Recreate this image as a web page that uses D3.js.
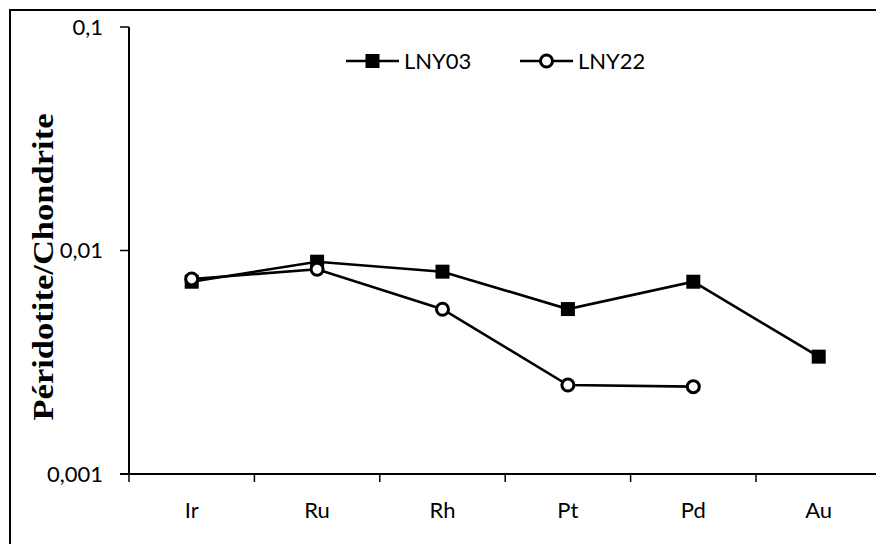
<!DOCTYPE html>
<html><head><meta charset="utf-8">
<script src="https://cdn.jsdelivr.net/npm/d3@7"></script>
<style>body{margin:0;background:#fff}svg{display:block}</style>
</head><body>
<svg id="c" width="876" height="544"></svg>
<script>
const categories = ["Ir","Ru","Rh","Pt","Pd","Au"];
const lny03 = [0.00725,0.00891,0.00804,0.00547,0.00725,0.00335];
const lny22 = [0.00746,0.00824,0.00546,0.00250,0.00246,null];
const yTicks = [0.001,0.01,0.1];
const yTickLabels = ["0,001","0,01","0,1"];
const seriesNames = ["LNY03","LNY22"];

const FONT = "Lato, 'Open Sans', sans-serif";
const FS = 22;
const svg = d3.select("#c");
svg.append("rect").attr("x",10).attr("y",10).attr("width",900).attr("height",600)
  .attr("fill","none").attr("stroke","#000").attr("stroke-width",2);

const x = d3.scaleBand().domain(categories).range([129,881.4]);
const y = d3.scaleLog().domain([0.001,0.1]).range([474,27]);

// y axis
svg.append("line").attr("x1",129).attr("x2",129).attr("y1",y(0.1)).attr("y2",y(0.001))
  .attr("stroke","#000").attr("stroke-width",2);
yTicks.forEach((t,i)=>{
  svg.append("line").attr("x1",120).attr("x2",129).attr("y1",y(t)).attr("y2",y(t))
    .attr("stroke","#000").attr("stroke-width",1.5);
  svg.append("text").attr("x",103).attr("y",y(t)).attr("dy","0.35em")
    .attr("text-anchor","end").attr("font-family",FONT)
    .attr("font-size",FS).text(yTickLabels[i]);
});
// x axis
svg.append("line").attr("x1",120).attr("x2",890).attr("y1",474).attr("y2",474)
  .attr("stroke","#000").attr("stroke-width",2);
categories.concat([null]).forEach((c,i)=>{
  const xp = 129 + i*x.bandwidth();
  svg.append("line").attr("x1",xp).attr("x2",xp).attr("y1",474).attr("y2",482)
    .attr("stroke","#000").attr("stroke-width",1.5);
});
categories.forEach(c=>{
  svg.append("text").attr("x",x(c)+x.bandwidth()/2).attr("y",510).attr("dy","0.35em")
    .attr("text-anchor","middle").attr("font-family",FONT)
    .attr("font-size",FS).text(c);
});
// y title
svg.append("text").attr("transform","translate(53,267) rotate(-90)")
  .attr("text-anchor","middle").attr("font-family","'Liberation Serif', 'Times New Roman', serif")
  .attr("font-weight","bold").attr("font-size",30)
  .attr("textLength",307).attr("lengthAdjust","spacingAndGlyphs")
  .text("Péridotite/Chondrite");

const cx = c => x(c)+x.bandwidth()/2;
const line = d3.line().defined(d=>d.v!=null).x(d=>cx(d.c)).y(d=>y(d.v));
const d03 = categories.map((c,i)=>({c,v:lny03[i]}));
const d22 = categories.map((c,i)=>({c,v:lny22[i]}));

svg.append("path").attr("d",line(d03)).attr("fill","none").attr("stroke","#000").attr("stroke-width",2.6);
svg.append("path").attr("d",line(d22)).attr("fill","none").attr("stroke","#000").attr("stroke-width",2.6);

const sq = 14;
svg.selectAll(".sq").data(d03.filter(d=>d.v!=null)).enter().append("rect")
  .attr("x",d=>cx(d.c)-sq/2).attr("y",d=>y(d.v)-sq/2).attr("width",sq).attr("height",sq).attr("fill","#000");
svg.selectAll(".ci").data(d22.filter(d=>d.v!=null)).enter().append("circle")
  .attr("cx",d=>cx(d.c)).attr("cy",d=>y(d.v)).attr("r",6)
  .attr("fill","#fff").attr("stroke","#000").attr("stroke-width",3);

// legend
const ly = 61;
const leg = [{x0:346,name:seriesNames[0],type:"sq"},{x0:520,name:seriesNames[1],type:"ci"}];
leg.forEach(l=>{
  svg.append("line").attr("x1",l.x0).attr("x2",l.x0+53).attr("y1",ly).attr("y2",ly)
    .attr("stroke","#000").attr("stroke-width",2.6);
  if(l.type==="sq") svg.append("rect").attr("x",l.x0+26.5-sq/2).attr("y",ly-sq/2).attr("width",sq).attr("height",sq).attr("fill","#000");
  else svg.append("circle").attr("cx",l.x0+26.5).attr("cy",ly).attr("r",6).attr("fill","#fff").attr("stroke","#000").attr("stroke-width",3);
  svg.append("text").attr("x",l.x0+58).attr("y",ly).attr("dy","0.35em")
    .attr("font-family",FONT).attr("font-size",FS).text(l.name);
});
</script>
</body></html>
